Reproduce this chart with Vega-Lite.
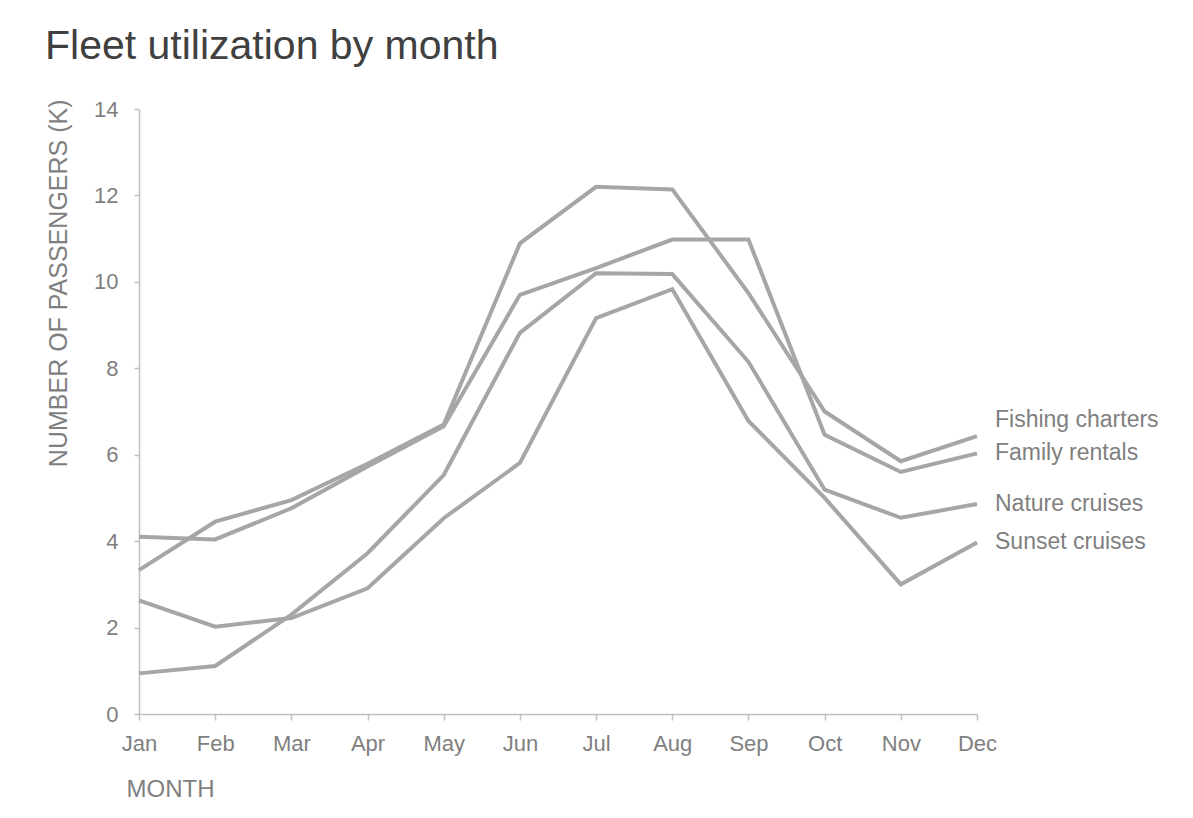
{
  "$schema": "https://vega.github.io/schema/vega-lite/v6.json",
  "width": 838,
  "height": 605,
  "autosize": "none",
  "padding": {"left": 139, "top": 109, "right": 216, "bottom": 104},
  "background": "white",
  "title": {
    "text": "Fleet utilization by month",
    "anchor": "start",
    "frame": "group",
    "dx": -94,
    "offset": 30,
    "fontSize": 41,
    "font": "Liberation Sans",
    "fontWeight": "normal",
    "color": "#404040"
  },
  "config": {
    "view": {"stroke": null},
    "font": "Liberation Sans",
    "axis": {
      "domainColor": "#bfbfbf",
      "tickColor": "#bfbfbf",
      "domainWidth": 1.5,
      "tickWidth": 1.5,
      "grid": false,
      "labelColor": "#7f7f7f",
      "labelFontSize": 22,
      "labelFont": "Liberation Sans",
      "titleColor": "#7f7f7f",
      "titleFont": "Liberation Sans",
      "titleFontWeight": "normal"
    }
  },
  "data": {
    "values": [
      {"month": "Jan", "series": "Fishing charters", "value": 3.33},
      {"month": "Feb", "series": "Fishing charters", "value": 4.45},
      {"month": "Mar", "series": "Fishing charters", "value": 4.95},
      {"month": "Apr", "series": "Fishing charters", "value": 5.79},
      {"month": "May", "series": "Fishing charters", "value": 6.7},
      {"month": "Jun", "series": "Fishing charters", "value": 10.89},
      {"month": "Jul", "series": "Fishing charters", "value": 12.2},
      {"month": "Aug", "series": "Fishing charters", "value": 12.14},
      {"month": "Sep", "series": "Fishing charters", "value": 9.74},
      {"month": "Oct", "series": "Fishing charters", "value": 7.0},
      {"month": "Nov", "series": "Fishing charters", "value": 5.85},
      {"month": "Dec", "series": "Fishing charters", "value": 6.43},
      {"month": "Jan", "series": "Family rentals", "value": 4.1},
      {"month": "Feb", "series": "Family rentals", "value": 4.04},
      {"month": "Mar", "series": "Family rentals", "value": 4.76},
      {"month": "Apr", "series": "Family rentals", "value": 5.73},
      {"month": "May", "series": "Family rentals", "value": 6.66},
      {"month": "Jun", "series": "Family rentals", "value": 9.7},
      {"month": "Jul", "series": "Family rentals", "value": 10.32},
      {"month": "Aug", "series": "Family rentals", "value": 10.98},
      {"month": "Sep", "series": "Family rentals", "value": 10.98},
      {"month": "Oct", "series": "Family rentals", "value": 6.46},
      {"month": "Nov", "series": "Family rentals", "value": 5.6},
      {"month": "Dec", "series": "Family rentals", "value": 6.03},
      {"month": "Jan", "series": "Nature cruises", "value": 0.94},
      {"month": "Feb", "series": "Nature cruises", "value": 1.11},
      {"month": "Mar", "series": "Nature cruises", "value": 2.3},
      {"month": "Apr", "series": "Nature cruises", "value": 3.72},
      {"month": "May", "series": "Nature cruises", "value": 5.53},
      {"month": "Jun", "series": "Nature cruises", "value": 8.82},
      {"month": "Jul", "series": "Nature cruises", "value": 10.2},
      {"month": "Aug", "series": "Nature cruises", "value": 10.18},
      {"month": "Sep", "series": "Nature cruises", "value": 8.15},
      {"month": "Oct", "series": "Nature cruises", "value": 5.19},
      {"month": "Nov", "series": "Nature cruises", "value": 4.54},
      {"month": "Dec", "series": "Nature cruises", "value": 4.86},
      {"month": "Jan", "series": "Sunset cruises", "value": 2.63},
      {"month": "Feb", "series": "Sunset cruises", "value": 2.02},
      {"month": "Mar", "series": "Sunset cruises", "value": 2.22},
      {"month": "Apr", "series": "Sunset cruises", "value": 2.91},
      {"month": "May", "series": "Sunset cruises", "value": 4.53},
      {"month": "Jun", "series": "Sunset cruises", "value": 5.81},
      {"month": "Jul", "series": "Sunset cruises", "value": 9.16},
      {"month": "Aug", "series": "Sunset cruises", "value": 9.83},
      {"month": "Sep", "series": "Sunset cruises", "value": 6.78},
      {"month": "Oct", "series": "Sunset cruises", "value": 5.0},
      {"month": "Nov", "series": "Sunset cruises", "value": 3.0},
      {"month": "Dec", "series": "Sunset cruises", "value": 3.97}
    ]
  },
  "encoding": {
    "x": {
      "field": "month",
      "type": "ordinal",
      "sort": ["Jan","Feb","Mar","Apr","May","Jun","Jul","Aug","Sep","Oct","Nov","Dec"],
      "scale": {"type": "point", "padding": 0},
      "axis": {
        "title": "MONTH",
        "labelAngle": 0,
        "tickSize": 6,
        "labelPadding": 13,
        "titleFontSize": 24,
        "titleX": -13,
        "titleY": 82,
        "titleAlign": "left",
        "titleBaseline": "alphabetic"
      }
    },
    "y": {
      "field": "value",
      "type": "quantitative",
      "scale": {"domain": [0, 14], "nice": false},
      "axis": {
        "title": "NUMBER OF PASSENGERS (K)",
        "values": [0, 2, 4, 6, 8, 10, 12, 14],
        "tickSize": 5,
        "labelPadding": 16,
        "titleFontSize": 25,
        "titleX": -81,
        "titleY": -10,
        "titleAngle": -90,
        "titleAlign": "right",
        "titleBaseline": "middle"
      }
    }
  },
  "layer": [
    {
      "mark": {"type": "line", "color": "#a6a6a6", "strokeWidth": 4, "strokeJoin": "miter"},
      "encoding": {"detail": {"field": "series"}}
    },
    {
      "transform": [{"filter": "datum.month === 'Dec' && datum.series !== 'Fishing charters'"}],
      "mark": {"type": "text", "align": "left", "baseline": "middle", "dx": 18, "fontSize": 23, "color": "#7f7f7f", "font": "Liberation Sans"},
      "encoding": {"text": {"field": "series"}}
    },
    {
      "transform": [{"filter": "datum.month === 'Dec' && datum.series === 'Fishing charters'"}],
      "mark": {"type": "text", "align": "left", "baseline": "middle", "dx": 18, "dy": -16, "fontSize": 23, "color": "#7f7f7f", "font": "Liberation Sans"},
      "encoding": {"text": {"field": "series"}}
    }
  ]
}
